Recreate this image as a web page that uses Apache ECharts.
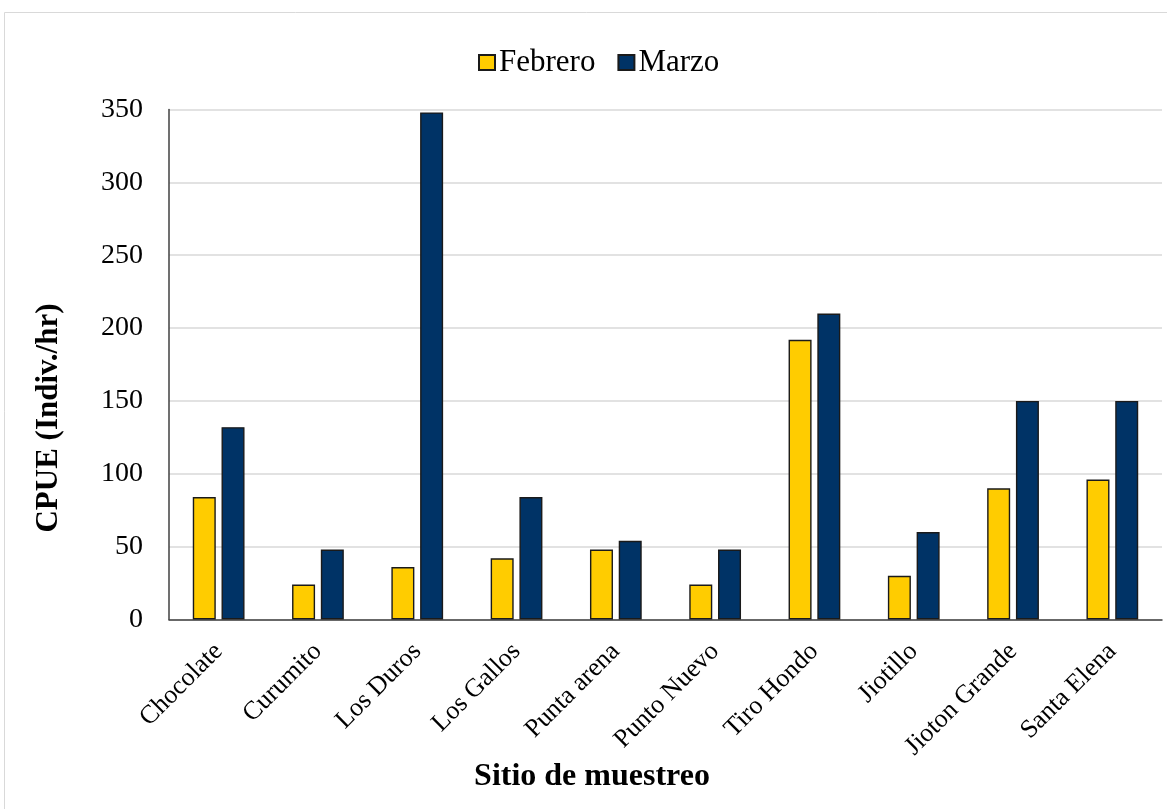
<!DOCTYPE html>
<html>
<head>
<meta charset="utf-8">
<script src="https://cdn.jsdelivr.net/npm/echarts@6/dist/echarts.min.js"></script>
<style>
  html, body { margin: 0; padding: 0; background: #ffffff; }
  #chart { width: 1167px; height: 809px; }
</style>
</head>
<body>
<div id="chart"></div>
<script>
// Sampling sites along the x axis
const sites = ['Chocolate', 'Curumito', 'Los Duros', 'Los Gallos', 'Punta arena',
  'Punto Nuevo', 'Tiro Hondo', 'Jiotillo', 'Jioton Grande', 'Santa Elena'];

// Catch per unit effort (individuals per hour) by month
const febrero = [84, 24, 36, 42, 48, 24, 192, 30, 90, 96];
const marzo   = [132, 48, 348, 84, 54, 48, 210, 60, 150, 150];

// Value axis range
const yMin = 0, yMax = 350, yStep = 50;

const serif = '"Liberation Serif", "Times New Roman", serif';

const chart = echarts.init(document.getElementById('chart'), null, { renderer: 'canvas' });

chart.setOption({
  backgroundColor: '#ffffff',
  animation: false,
  graphic: [
    {
      type: 'rect',
      shape: { x: 4.5, y: 12.5, width: 1300, height: 900 },
      style: { fill: 'none', stroke: '#d9d9d9', lineWidth: 1 },
      silent: true, z: -10
    },
    {
      type: 'text',
      x: 49, y: 418,
      rotation: Math.PI / 2,
      style: {
        text: 'CPUE (Indiv./hr)',
        font: 'bold 31px ' + serif,
        fill: '#000000',
        align: 'center', verticalAlign: 'middle'
      }
    },
    {
      type: 'text',
      x: 592, y: 777,
      style: {
        text: 'Sitio de muestreo',
        font: 'bold 32px ' + serif,
        fill: '#000000',
        align: 'center', verticalAlign: 'middle'
      }
    }
  ],
  legend: {
    left: 473,
    top: 42,
    itemWidth: 16,
    itemHeight: 15,
    itemGap: 22,
    icon: 'rect',
    textStyle: { fontFamily: serif, fontSize: 31, color: '#000000', padding: [0, 0, 0, -1] },
    data: ['Febrero', 'Marzo']
  },
  grid: { left: 169, right: 5, top: 109.5, bottom: 189.5, containLabel: false },
  xAxis: {
    type: 'category',
    data: sites,
    axisLine: { show: true, lineStyle: { color: '#404040', width: 1.5 } },
    axisTick: { show: false },
    axisLabel: {
      interval: 0,
      rotate: 45,
      margin: 28,
      fontFamily: serif,
      fontSize: 26,
      color: '#000000'
    }
  },
  yAxis: {
    type: 'value',
    min: yMin,
    max: yMax,
    interval: yStep,
    axisLine: { show: true, lineStyle: { color: '#404040', width: 1.5 } },
    axisTick: { show: false },
    splitLine: { show: true, lineStyle: { color: '#d9d9d9', width: 1.5 } },
    axisLabel: {
      margin: 26,
      fontFamily: serif,
      fontSize: 28,
      color: '#000000'
    }
  },
  series: [
    {
      name: 'Febrero',
      type: 'bar',
      data: febrero,
      barWidth: 23,
      barGap: '25%',
      itemStyle: { color: '#FFCC00', borderColor: '#1a1a1a', borderWidth: 1.4 }
    },
    {
      name: 'Marzo',
      type: 'bar',
      data: marzo,
      barWidth: 23,
      barGap: '25%',
      itemStyle: { color: '#003366', borderColor: '#1a1a1a', borderWidth: 1.4 }
    }
  ]
});
</script>
</body>
</html>
